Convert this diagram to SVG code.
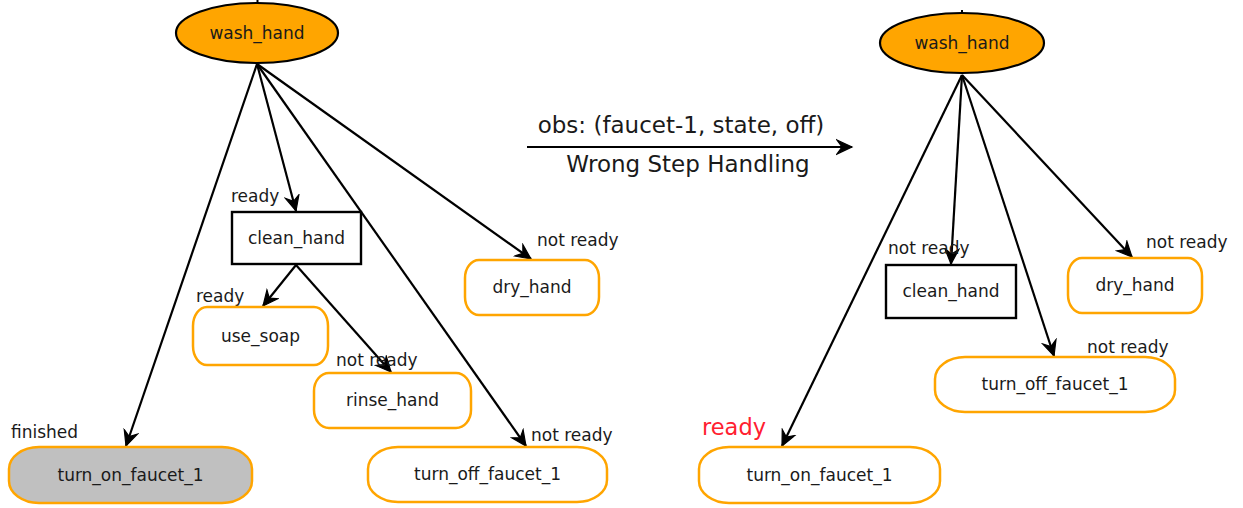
<svg xmlns="http://www.w3.org/2000/svg" width="1243" height="508" viewBox="0 0 1243 508">
<defs>
<marker id="arr" markerUnits="userSpaceOnUse" viewBox="-1 -9 18 18" refX="15" refY="0" markerWidth="18" markerHeight="18" orient="auto">
<path d="M0,-7 L15,0 L0,7 L5,0 Z" fill="#000" stroke="#000" stroke-width="1.2" stroke-linejoin="miter"/>
</marker>
<style>
.bg{fill:#fff}
.ell{fill:#ffa500;stroke:#000;stroke-width:2.2}
.box{fill:#fff;stroke:#000;stroke-width:2.4}
.rnd{fill:#fff;stroke:#ffa500;stroke-width:2.5}
.done{fill:#c0c0c0;stroke:#ffa500;stroke-width:2.5}
.edge{fill:none;stroke:#000;stroke-width:2.2;marker-end:url(#arr)}
.stub{fill:none;stroke:#000;stroke-width:2}
.nt{font-family:"DejaVu Sans","Liberation Sans",sans-serif;font-size:17px;fill:#1a1a1a;text-anchor:middle}
.lb{font-family:"DejaVu Sans","Liberation Sans",sans-serif;font-size:17px;fill:#1a1a1a}
.big{font-family:"DejaVu Sans","Liberation Sans",sans-serif;font-size:23px;fill:#1a1a1a;text-anchor:middle}
.red{font-family:"DejaVu Sans","Liberation Sans",sans-serif;font-size:22.5px;fill:#ff2030}
</style>
</defs>
<rect class="bg" x="0" y="0" width="1243" height="508"/>

<g id="connectors">
<line class="stub" x1="257.5" y1="0" x2="257.5" y2="3"/>
<line class="stub" x1="962" y1="10" x2="962" y2="14"/>
<line class="edge" x1="257" y1="64" x2="296" y2="211"/>
<line class="edge" x1="257" y1="64" x2="531" y2="259"/>
<line class="edge" x1="257" y1="64" x2="526" y2="446"/>
<line class="edge" x1="257" y1="64" x2="126" y2="446"/>
<line class="edge" x1="296" y1="265" x2="263" y2="306"/>
<line class="edge" x1="296" y1="265" x2="391" y2="372"/>
<line class="edge" x1="962" y1="75" x2="951" y2="264"/>
<line class="edge" x1="962" y1="75" x2="1132" y2="257"/>
<line class="edge" x1="962" y1="75" x2="1054" y2="356"/>
<line class="edge" x1="962" y1="75" x2="782" y2="446"/>
<line class="edge" x1="527" y1="147" x2="852" y2="147"/>
</g>

<g id="edge-labels">
<text class="lb" x="231" y="202">ready</text>
<text class="lb" x="537" y="246">not ready</text>
<text class="lb" x="196" y="302">ready</text>
<text class="lb" x="336" y="366">not ready</text>
<text class="lb" x="11" y="438">finished</text>
<text class="lb" x="531" y="441">not ready</text>
<text class="lb" x="888" y="254">not ready</text>
<text class="lb" x="1146" y="248">not ready</text>
<text class="lb" x="1087" y="353">not ready</text>
<text class="red" x="702" y="435">ready</text>
<text class="big" x="681" y="133">obs: (faucet-1, state, off)</text>
<text class="big" x="688" y="172">Wrong Step Handling</text>
</g>

<g id="L_wash_hand">
<ellipse class="ell" cx="257" cy="33" rx="81" ry="30"/>
<text class="nt" x="257" y="39">wash_hand</text>
</g>
<g id="L_clean_hand">
<rect class="box" x="232" y="212" width="129" height="52"/>
<text class="nt" x="296.5" y="244">clean_hand</text>
</g>
<g id="L_dry_hand">
<rect class="rnd" x="465" y="260" width="134" height="55" rx="14" ry="18"/>
<text class="nt" x="532" y="293">dry_hand</text>
</g>
<g id="L_use_soap">
<rect class="rnd" x="193" y="307" width="135" height="58" rx="14" ry="19"/>
<text class="nt" x="260.5" y="342">use_soap</text>
</g>
<g id="L_rinse_hand">
<rect class="rnd" x="314" y="373" width="157" height="55" rx="15" ry="18"/>
<text class="nt" x="392.5" y="406">rinse_hand</text>
</g>
<g id="L_turn_on_faucet_1">
<rect class="done" x="9" y="447" width="243" height="56" rx="30" ry="22"/>
<text class="nt" x="130.5" y="481">turn_on_faucet_1</text>
</g>
<g id="L_turn_off_faucet_1">
<rect class="rnd" x="368" y="447" width="239" height="55" rx="30" ry="22"/>
<text class="nt" x="487.5" y="480">turn_off_faucet_1</text>
</g>

<g id="R_wash_hand">
<ellipse class="ell" cx="962" cy="43" rx="82" ry="30"/>
<text class="nt" x="962" y="49">wash_hand</text>
</g>
<g id="R_clean_hand">
<rect class="box" x="886" y="265" width="130" height="53"/>
<text class="nt" x="951" y="297">clean_hand</text>
</g>
<g id="R_dry_hand">
<rect class="rnd" x="1068" y="258" width="134" height="55" rx="14" ry="18"/>
<text class="nt" x="1135" y="291">dry_hand</text>
</g>
<g id="R_turn_off_faucet_1">
<rect class="rnd" x="935" y="357" width="240" height="55" rx="30" ry="22"/>
<text class="nt" x="1055" y="390">turn_off_faucet_1</text>
</g>
<g id="R_turn_on_faucet_1">
<rect class="rnd" x="699" y="447" width="241" height="56" rx="30" ry="22"/>
<text class="nt" x="819.5" y="481">turn_on_faucet_1</text>
</g>
</svg>
